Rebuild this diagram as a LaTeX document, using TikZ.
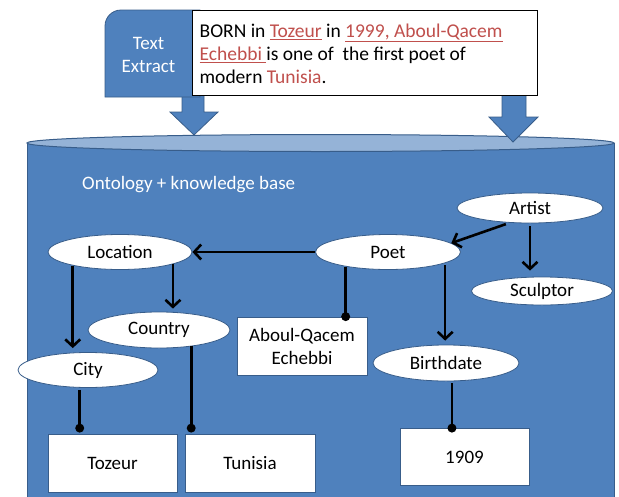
\documentclass[tikz,border=0pt]{standalone}
\usepackage{fontspec}
\setmainfont{Carlito}
\usetikzlibrary{arrows.meta,calc,shapes.geometric}
\definecolor{cylfill}{HTML}{4F81BD}
\definecolor{cylline}{HTML}{385D8A}
\definecolor{cyltop}{HTML}{95B3D7}
\definecolor{redtxt}{HTML}{C0504D}
\begin{document}
\begin{tikzpicture}[x=1pt,y=-1pt,
  txt/.style={font=\fontsize{19}{23}\selectfont},
  concept/.style={ellipse, draw=cylline, line width=0.8pt, fill=white, inner sep=0pt, txt},
  valbox/.style={rectangle, draw=cylline, line width=0.8pt, fill=white, inner sep=0pt, align=center, txt},
  arr/.style={line width=2.6pt, -{Straight Barb[length=7pt,width=15pt]}},
  link/.style={line width=2.6pt},
  dotmark/.style={circle, fill=black, inner sep=0pt, minimum size=9pt},
  blockarrow/.style={fill=cylfill, draw=cylline, line width=0.8pt}
]
\useasboundingbox (0,0) rectangle (619,496);
\clip (0,0) rectangle (619,496);
\fill[white] (0,0) rectangle (619,496);
% cylinder
\fill[cylfill] (27,143) -- (27,520) -- (614,520) -- (614,143) -- cycle;
\draw[cylline, line width=1pt] (27,143) -- (27,520) (614,143) -- (614,520);
\draw[cylline, line width=1pt, fill=cyltop] (320.5,143) ellipse [x radius=293.5, y radius=8.5];
% block arrows
\path[blockarrow] (182,88) -- (204,88) -- (204,112) -- (218,112) -- (194,135) -- (170,112) -- (182,112) -- cycle;
\path[blockarrow] (502,90) -- (526,90) -- (526,117) -- (538,117) -- (513,142) -- (489,117) -- (502,117) -- cycle;
% text extract tab
\path[fill=cylfill, draw=cylline, line width=0.8pt] (105,97) -- (105,26) arc[start angle=180, end angle=270, radius=16] -- (200,10) -- (200,97) -- cycle;
\node[txt, text=white, align=center] (tab) at (148.5,55) {Text\\Extract};
\node[draw=black, line width=1.3pt, fill=white, anchor=north west, minimum height=85,
      text width=331, inner xsep=7pt, inner ysep=0pt, align=flush left,
      font=\fontsize{19.5}{23}\selectfont] (extract) at (192,10)
  {\rule{0pt}{15pt}BORN in \textcolor{redtxt}{\underline{Tozeur}} in \textcolor{redtxt}{\underline{1999, Aboul-Qacem}}\\
   \textcolor{redtxt}{\underline{Echebbi\ }}is one of\ \ the first poet of\\
   modern \textcolor{redtxt}{Tunisia}.};
\node[txt, text=white, anchor=west, inner sep=0pt] (onto) at (82,185) {Ontology + knowledge base};
% concept nodes
\node[concept, minimum width=146, minimum height=30] (artist) at (530,208) {Artist};
\node[concept, minimum width=141, minimum height=28] (sculptor) at (542,291) {Sculptor};
\node[concept, minimum width=144, minimum height=35] (location) at (120,252) {Location};
\node[concept, minimum width=145, minimum height=35] (poet) at (388,252) {Poet};
\node[concept, minimum width=142, minimum height=36] (country) at (159,330) {Country};
\node[concept, minimum width=140, minimum height=35] (city) at (88,370) {City};
\node[concept, minimum width=146, minimum height=36] (birth) at (446,363) {Birthdate};
% value boxes
\node[valbox, minimum width=130, minimum height=58] (aboul) at (302,346) {Aboul-Qacem\\Echebbi};
\node[valbox, minimum width=129, minimum height=58] (tozeur) at (112.5,463) {Tozeur};
\node[valbox, minimum width=130, minimum height=58] (tunisia) at (250,463) {Tunisia};
\node[valbox, minimum width=129, minimum height=57] (year) at (464.5,457) {1909};
% connectors
\draw[arr, shorten <=4pt] (artist.216) -- (poet.8);
\draw[arr, shorten <=3pt, shorten >=6pt] (artist.south) -- (artist.south |- sculptor.north);
\draw[arr] (poet.west) -- (location.east);
\draw[arr, shorten >=4pt] (location.196) -- (location.196 |- city.north);
\draw[arr, shorten >=3pt] (location.347) -- (location.347 |- country.north);
\draw[link] (poet.199) -- (poet.199 |- aboul.north) node[dotmark]{};
\draw[arr, shorten <=2pt, shorten >=4pt] (poet.349) -- (poet.349 |- birth.north);
\draw[link, shorten <=2pt] (city.245) -- ($(city.245 |- tozeur.north)+(0,-5.5)$) node[dotmark]{};
\draw[link] (country.333) -- ($(country.333 |- tunisia.north)+(0,-5.5)$) node[dotmark]{};
\draw[link, shorten <=2pt] (birth.288) -- (birth.288 |- year.north) node[dotmark]{};
\end{tikzpicture}
\end{document}
